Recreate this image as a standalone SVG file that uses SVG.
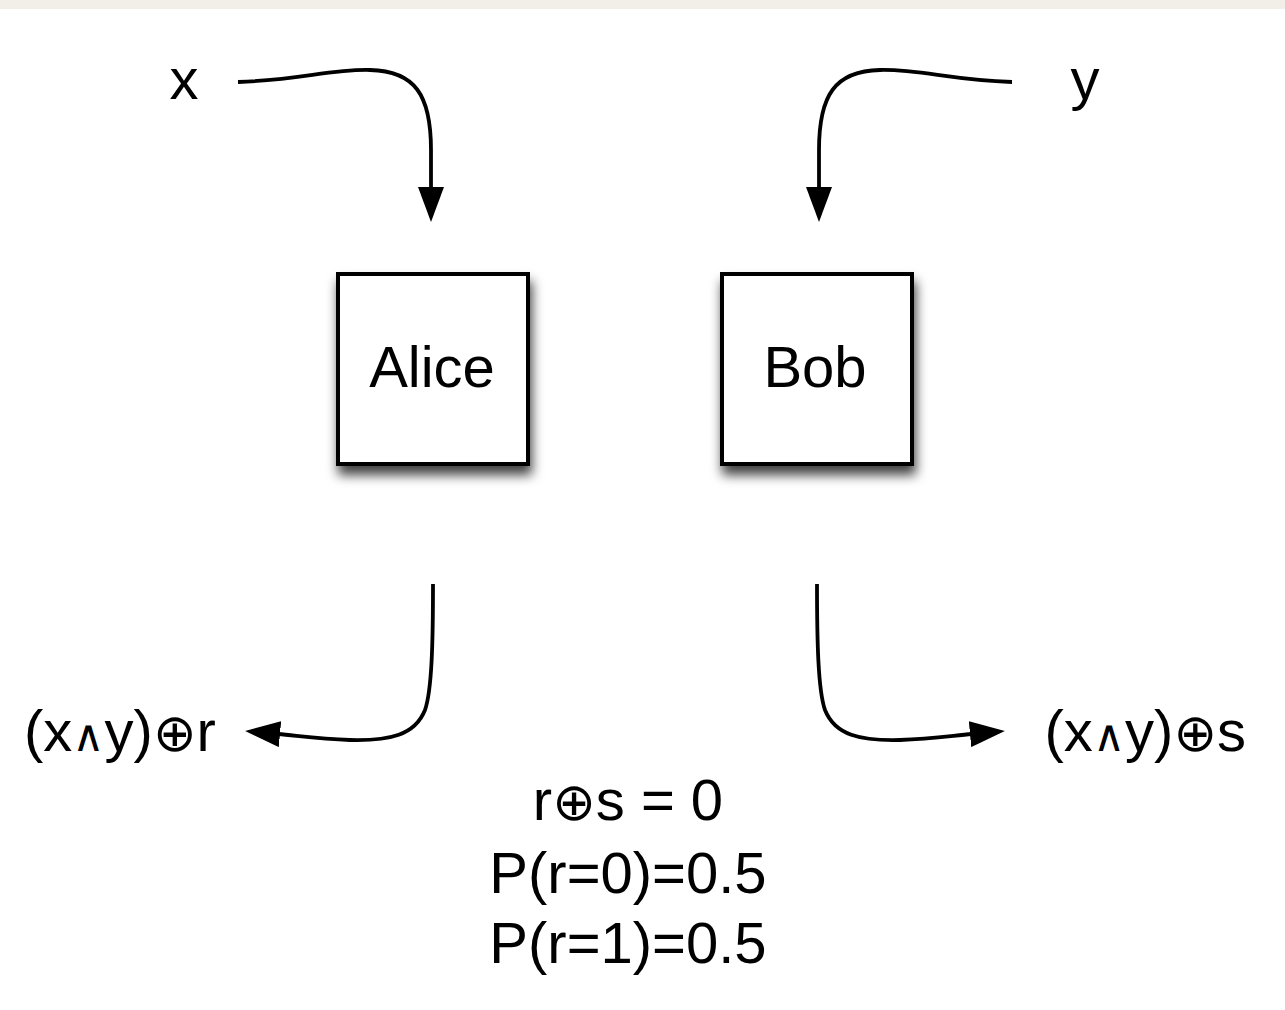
<svg xmlns="http://www.w3.org/2000/svg" width="1285" height="1010" viewBox="0 0 1285 1010">
<style>
text{font-family:"Liberation Sans","DejaVu Sans",Arial,sans-serif;font-size:58px;fill:#000}
.and{font-size:44px}
.xor{font-size:52px}
.box{fill:#fff;stroke:#000;stroke-width:4}
.conn{fill:none;stroke:#000;stroke-width:3.8}
.mid{text-anchor:middle}
</style>
<defs>
<filter id="sh" x="-20%" y="-20%" width="140%" height="150%">
<feDropShadow dx="2" dy="9" stdDeviation="6" flood-color="#000" flood-opacity="0.75"/>
</filter>
<marker id="ah" viewBox="0 0 35 26" refX="2" refY="13" markerWidth="35" markerHeight="26" markerUnits="userSpaceOnUse" orient="auto">
<path d="M0,0 L35,13 L0,26 Z" fill="#000"/>
</marker>
</defs>
<rect x="0" y="0" width="1285" height="9" fill="#f2efe8"/>
<g id="alice">
<rect class="box" x="338" y="274" width="190" height="190" filter="url(#sh)"/>
<text class="mid" x="432" y="387">Alice</text>
</g>
<g id="bob">
<rect class="box" x="722" y="274" width="190" height="190" filter="url(#sh)"/>
<text class="mid" x="815" y="387">Bob</text>
</g>
<g id="label-x"><text class="mid" x="184" y="99">x</text></g>
<g id="label-y"><text class="mid" x="1085" y="99">y</text></g>
<g id="label-out-a"><text x="24" y="751">(x<tspan class="and">∧</tspan>y)<tspan class="xor">⊕</tspan>r</text></g>
<g id="label-out-b"><text x="1246" y="751" text-anchor="end">(x<tspan class="and">∧</tspan>y)<tspan class="xor">⊕</tspan>s</text></g>
<g id="note">
<text class="mid" x="628" y="820">r<tspan class="xor">⊕</tspan>s = 0</text>
<text class="mid" x="628" y="893">P(r=0)=0.5</text>
<text class="mid" x="628" y="963">P(r=1)=0.5</text>
</g>
<g id="connectors">
<path class="conn" marker-end="url(#ah)" d="M238,82 C300,80 330,69 370,70 C415,71 431,95 431,150 L431,189"/>
<path class="conn" marker-end="url(#ah)" d="M1012,82 C950,80 920,69 880,70 C835,71 819,95 819,150 L819,189"/>
<path class="conn" marker-end="url(#ah)" d="M433,584 C433,640 432,690 425,710 C415,735 390,741 350,740 C320,739 300,736 278,734"/>
<path class="conn" marker-end="url(#ah)" d="M817,584 C817,640 818,690 825,710 C835,735 860,741 900,740 C930,739 950,736 972,734"/>
</g>
</svg>
